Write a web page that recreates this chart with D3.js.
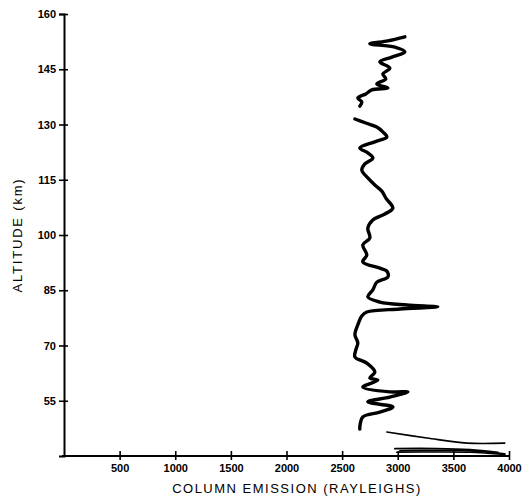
<!DOCTYPE html>
<html>
<head>
<meta charset="utf-8">
<script src="https://cdn.jsdelivr.net/npm/d3@7"></script>
<style>
  body { margin: 0; background: #fff; }
  svg { display: block; }
</style>
</head>
<body>
<div id="container"></div>
<script>
var xTicks = [500, 1000, 1500, 2000, 2500, 3000, 3500, 4000]
var yTicks = [55, 70, 85, 100, 115, 130, 145, 160]

// upper trace (emission, altitude)
var upperTrace = [
  [3064, 153.8], [2911, 152.7], [2749, 151.9], [2974, 151.0], [3064, 149.7],
  [2947, 148.3], [2839, 147.0], [2929, 145.3], [2866, 143.7], [2893, 142.4],
  [2812, 141.0], [2911, 139.9], [2767, 139.4], [2713, 138.3], [2641, 137.2],
  [2677, 136.1], [2659, 135.0]
]

// main trace below the gap
var mainTrace = [
  [2615, 131.5], [2713, 130.4], [2812, 129.3], [2866, 128.0], [2902, 126.6],
  [2794, 125.3], [2659, 123.6], [2731, 122.3], [2776, 120.9], [2704, 119.3],
  [2677, 117.6], [2731, 115.5], [2794, 113.6], [2857, 111.9], [2893, 110.0],
  [2956, 107.3], [2884, 105.7], [2776, 104.1], [2731, 101.9], [2749, 99.2],
  [2686, 97.3], [2722, 94.6], [2686, 92.7], [2839, 91.0], [2902, 90.2],
  [2911, 88.6], [2812, 87.2], [2776, 85.1], [2731, 83.2], [2839, 81.8],
  [3082, 81.0], [3360, 80.5], [3019, 79.9], [2722, 79.1], [2677, 78.0],
  [2641, 75.6], [2615, 72.9], [2641, 70.7], [2623, 68.8], [2615, 66.9],
  [2722, 65.2], [2794, 62.8], [2749, 61.2], [2821, 60.6], [2686, 58.7],
  [2929, 57.4], [3091, 57.4], [2929, 56.0], [2731, 54.7], [2956, 53.3],
  [2839, 51.9], [2686, 50.6], [2659, 47.9], [2659, 47.3]
]

// thin tail near the bottom
var tailTrace = [[2902, 46.5], [3262, 44.9], [3621, 43.5], [3962, 43.5]]

// bundle of traces along the x axis
var bundleA = [[2974, 42.0], [3350, 42.0], [3650, 41.7], [3900, 41.0]]
var bundleB = [[3019, 41.4], [3450, 41.5], [3700, 41.3], [3962, 40.6]]
var bundleC = [[2990, 41.0], [3400, 41.1], [3650, 41.0], [3962, 40.4]]

var width = 526
var height = 504

var svg = d3.select("#container")
  .append("svg")
  .attr("width", width)
  .attr("height", height)

var x = d3.scaleLinear().domain([0, 4000]).range([64, 509])
var y = d3.scaleLinear().domain([40, 160]).range([456, 14])

var tickFont = "'Liberation Sans Narrow', 'Liberation Sans', Arial, sans-serif"

// y axis
var yAxis = svg.append("g")
  .attr("transform", "translate(" + x(0) + ",0)")
  .call(d3.axisLeft(y).tickValues(yTicks).tickSize(5).tickPadding(3).tickFormat(d3.format("d")))
yAxis.select(".domain").attr("stroke", "#000").attr("stroke-width", 2)
yAxis.selectAll(".tick line").attr("x1", -5).attr("x2", 4).attr("stroke-width", 1.6)
yAxis.selectAll(".tick text")
  .attr("font-family", tickFont)
  .attr("font-weight", "bold")
  .attr("font-size", 11)
  .attr("fill", "#000")

// x axis
var xAxis = svg.append("g")
  .attr("transform", "translate(0," + y(40) + ")")
  .call(d3.axisBottom(x).tickValues(xTicks).tickSize(4).tickPadding(4).tickFormat(d3.format("d")))
xAxis.select(".domain").attr("stroke", "#000").attr("stroke-width", 2)
  .attr("d", "M" + (x(0) - 2) + ",0H" + x(4000))
xAxis.selectAll(".tick line").attr("y1", -5).attr("y2", 4).attr("stroke-width", 1.6)
xAxis.selectAll(".tick text")
  .attr("font-family", tickFont)
  .attr("font-weight", "bold")
  .attr("font-size", 11)
  .attr("fill", "#000")

// axis titles
svg.append("text")
  .attr("x", 297)
  .attr("y", 493)
  .attr("text-anchor", "middle")
  .attr("font-family", "'Liberation Sans', Arial, sans-serif")
  .attr("font-size", 13)
  .attr("letter-spacing", 1.5)
  .text("COLUMN EMISSION (RAYLEIGHS)")

svg.append("text")
  .attr("transform", "translate(22,235) rotate(-90)")
  .attr("text-anchor", "middle")
  .attr("font-family", "'Liberation Sans', Arial, sans-serif")
  .attr("font-size", 13)
  .attr("letter-spacing", 1.8)
  .text("ALTITUDE (km)")

var line = d3.line()
  .x(function(d) { return x(d[0]) })
  .y(function(d) { return y(d[1]) })
  .curve(d3.curveCatmullRom)

var traces = [
  { data: upperTrace, w: 3.4 },
  { data: mainTrace, w: 3.4 },
  { data: tailTrace, w: 1.6 },
  { data: bundleA, w: 1.8 },
  { data: bundleB, w: 1.8 },
  { data: bundleC, w: 1.6 }
]

svg.append("g")
  .selectAll("path")
  .data(traces)
  .enter()
  .append("path")
  .attr("d", function(d) { return line(d.data) })
  .attr("fill", "none")
  .attr("stroke", "#000")
  .attr("stroke-width", function(d) { return d.w })
  .attr("stroke-linejoin", "round")
  .attr("stroke-linecap", "round")
</script>
</body>
</html>
